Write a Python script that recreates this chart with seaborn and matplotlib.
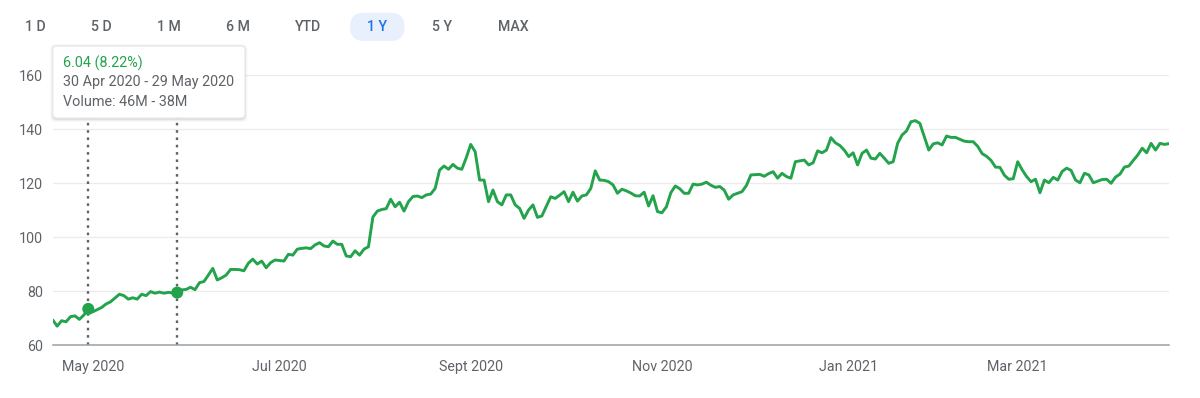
import numpy as np
import pandas as pd
import matplotlib
matplotlib.use("Agg")
import matplotlib.pyplot as plt
import matplotlib.transforms as mtransforms
from matplotlib.patches import FancyBboxPatch
import seaborn as sns

# --- data: daily closes for one year of trading days ---
START, END = "2020-04-20", "2021-04-19"
HOLIDAYS = ["2020-05-25", "2020-07-03", "2020-09-07", "2020-11-26", "2020-12-25",
            "2021-01-01", "2021-01-18", "2021-02-15", "2021-04-02"]

PRICE = [
    69.4, 67.1, 69.1, 68.7, 70.6, 70.9, 69.6, 71.2, 73.48, 72.4,
    73.2, 74.0, 75.3, 76.1, 77.5, 78.9, 78.4, 77.1, 77.6, 77.1,
    78.9, 78.4, 79.9, 79.3, 79.7, 79.3, 79.6, 79.4, 79.52, 80.5,
    80.7, 81.5, 80.6, 83.2, 83.6, 86.0, 88.5, 84.2, 85.0, 86.0,
    88.1, 88.1, 88.0, 87.6, 90.4, 91.9, 90.1, 91.2, 88.7, 90.6,
    91.6, 91.4, 91.2, 93.7, 93.4, 95.6, 95.9, 96.1, 95.8, 97.2,
    98.0, 96.8, 96.5, 98.6, 97.4, 97.4, 93.1, 92.8, 95.0, 93.4,
    95.6, 96.5, 107.5, 109.7, 110.3, 110.6, 114.1, 111.3, 113.0, 109.7,
    113.2, 115.1, 115.3, 114.7, 115.7, 116.0, 118.1, 124.9, 126.4, 125.2,
    127.0, 125.6, 125.2, 129.5, 134.4, 131.7, 121.2, 121.2, 113.2, 117.5,
    113.2, 112.0, 115.7, 115.7, 112.0, 110.7, 107.0, 110.1, 112.0, 107.4,
    107.9, 111.5, 115.0, 114.4, 115.6, 116.9, 113.2, 116.7, 113.4, 115.3,
    115.7, 118.1, 124.6, 121.2, 121.1, 120.6, 119.4, 116.3, 117.8, 117.2,
    116.4, 115.4, 115.3, 116.7, 111.6, 115.4, 109.5, 109.1, 111.3, 116.5,
    119.0, 118.0, 116.3, 116.3, 119.7, 119.4, 119.7, 120.4, 119.3, 118.5,
    118.8, 117.5, 114.1, 115.7, 116.3, 116.9, 119.2, 123.1, 123.2, 123.3,
    122.6, 123.6, 124.3, 121.9, 123.7, 122.5, 121.9, 128.0, 128.3, 128.6,
    126.8, 127.6, 132.0, 131.3, 132.3, 136.9, 135.0, 134.0, 132.3, 129.9,
    131.3, 126.8, 131.1, 132.3, 129.3, 129.0, 131.1, 129.3, 127.4, 128.0,
    134.8, 137.9, 139.4, 142.8, 143.2, 142.2, 137.3, 132.3, 134.6, 135.0,
    134.2, 137.5, 137.0, 137.0, 136.3, 135.6, 135.4, 135.4, 133.7, 131.0,
    130.0, 128.5, 126.0, 125.9, 123.0, 121.5, 121.7, 128.0, 125.0, 122.5,
    120.6, 121.5, 116.5, 121.2, 120.2, 122.2, 121.2, 124.4, 125.6, 124.8,
    121.2, 120.2, 123.7, 123.1, 120.2, 120.8, 121.4, 121.5, 120.0, 122.3,
    123.4, 126.0, 126.4, 128.5, 130.5, 133.0, 131.3, 134.8, 132.3, 134.8,
    134.4, 134.7,
]

TICK_MONTHS = ["2020-05-01", "2020-07-01", "2020-09-01", "2020-11-01", "2021-01-01", "2021-03-01"]
TICK_LABELS = ["May 2020", "Jul 2020", "Sept 2020", "Nov 2020", "Jan 2021", "Mar 2021"]
Y_TICKS = [60, 80, 100, 120, 140, 160]

SELECTED = ["2020-04-30", "2020-05-29"]
TIP_LINES = ["6.04 (8.22%)", "30 Apr 2020 - 29 May 2020", "Volume: 46M - 38M"]
RANGES = ["1 D", "5 D", "1 M", "6 M", "YTD", "1 Y", "5 Y", "MAX"]
ACTIVE = "1 Y"

# --- style ---
GREEN = "#23a34c"
GREY = "#5f6368"
sns.set_style("white")
plt.rcParams["font.family"] = ["Roboto", "DejaVu Sans"]

dates = pd.bdate_range(START, END, freq="C", holidays=HOLIDAYS)
df = pd.DataFrame({"date": dates, "price": PRICE})
df["pos"] = np.arange(len(df))

W, H = 1200, 398
fig = plt.figure(figsize=(W / 100, H / 100), dpi=100)
ax = fig.add_axes([52.7 / W, 1 - 345.3 / H, (1168.9 - 52.7) / W, (345.3 - 75.3) / H])

sel = df.set_index("date").loc[pd.to_datetime(SELECTED)]
for p in sel["pos"]:
    ax.axvline(p, color=GREY, lw=1.7, ls=(0, (1.1, 2.0)), zorder=1)

sns.lineplot(data=df, x="pos", y="price", color=GREEN, linewidth=2.1, ax=ax, zorder=3)
sns.scatterplot(data=sel, x="pos", y="price", color=GREEN, s=75, edgecolor="none", ax=ax, zorder=4)

ax.set_xlim(df["pos"].iloc[0], df["pos"].iloc[-1])
ax.set_ylim(60, 160)
ax.set_yticks(Y_TICKS)
ax.yaxis.grid(True, color="#ececec", lw=1)
ax.xaxis.grid(False)
ax.set_axisbelow(True)
tick_pos = np.searchsorted(df["date"].values, pd.to_datetime(TICK_MONTHS).values)
ax.set_xticks(tick_pos)
ax.set_xticklabels(TICK_LABELS)
ax.tick_params(axis="x", length=4.5, width=1.6, color=GREY, labelcolor=GREY, labelsize=10.3, pad=6)
ax.tick_params(axis="y", length=0, labelcolor=GREY, labelsize=10.3, pad=7)
ax.set_xlabel("")
ax.set_ylabel("")
for s in ["top", "right", "left"]:
    ax.spines[s].set_visible(False)
ax.spines["bottom"].set_color("#9aa0a6")
ax.spines["bottom"].set_linewidth(1.1)

# --- tooltip box (pixel coords, y from top) ---
ident = mtransforms.IdentityTransform()
bx0, by0, bx1, by1 = 52.7, 46, 245, 118
for k, a in [(3, 0.025), (2, 0.04), (1, 0.06)]:
    fig.add_artist(FancyBboxPatch((bx0 - k + 0.5, H - by1 - 1 - k), bx1 - bx0 + 2 * k - 1, by1 - by0 + 2 * k,
                                  boxstyle="round,pad=0,rounding_size=5", transform=ident,
                                  facecolor="black", edgecolor="none", alpha=a, zorder=9))
fig.add_artist(FancyBboxPatch((bx0, H - by1), bx1 - bx0, by1 - by0,
                              boxstyle="round,pad=0,rounding_size=4", transform=ident,
                              facecolor="white", edgecolor="#e6e6e6", lw=0.8, zorder=10))
for i, (txt, yy) in enumerate(zip(TIP_LINES, [63.3, 82.3, 102.0])):
    fig.text(62.7 / W, 1 - yy / H, txt, ha="left", va="center", fontsize=10.4,
             color=GREEN if i == 0 else GREY, zorder=11)

# --- range buttons ---
btn_x = [35.4, 101.6, 169, 238, 308.5, 377, 442.4, 512.9]
for lab, bx in zip(RANGES, btn_x):
    if lab == ACTIVE:
        fig.add_artist(FancyBboxPatch((350, H - 41), 54.5, 28.3,
                                      boxstyle="round,pad=0,rounding_size=14", transform=ident,
                                      facecolor="#e8f0fe", edgecolor="none", zorder=5))
    fig.text(bx / W, 1 - 26.7 / H, lab, ha="center", va="center", fontsize=10.2,
             fontweight="medium", color="#1a73e8" if lab == ACTIVE else GREY, zorder=6)

fig.savefig("out.png", dpi=100)
